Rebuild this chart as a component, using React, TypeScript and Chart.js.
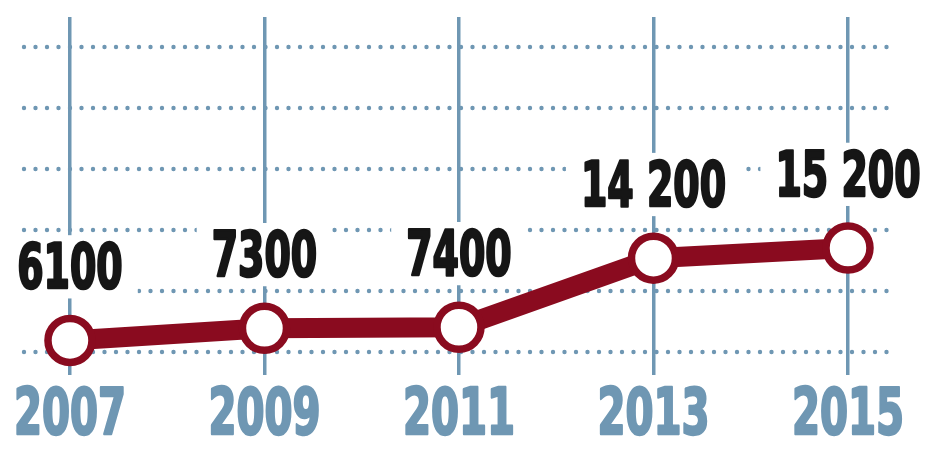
import React, { useEffect, useRef } from 'react';
import { Chart, registerables } from 'chart.js';

Chart.register(...registerables);

// ---- data ----
const years = [2007, 2009, 2011, 2013, 2015];
const values = [6100, 7300, 7400, 14200, 15200];
const valueLabels = ['6100', '7300', '7400', '14 200', '15 200'];
const yearLabels = ['2007', '2009', '2011', '2013', '2015'];
const gridValues = [5000, 11000, 17000, 23000, 29000, 35000];

// ---- style ----
const RED = '#8a0b1f';
const BLUE = '#6f97b3';
const FONT = "'DejaVu Sans Condensed', 'DejaVu Sans', sans-serif";

const dottedGrid = {
  id: 'dottedGrid',
  beforeDatasetsDraw(chart: any) {
    const { ctx, chartArea, scales } = chart;
    const y = scales.y;
    ctx.save();
    ctx.strokeStyle = BLUE;
    ctx.lineWidth = 4.4;
    ctx.lineCap = 'round';
    ctx.setLineDash([0, 11.5]);
    gridValues.forEach((v) => {
      const py = Math.round(y.getPixelForValue(v));
      ctx.beginPath();
      ctx.moveTo(chartArea.left + 1, py);
      ctx.lineTo(chartArea.right, py);
      ctx.stroke();
    });
    ctx.restore();
  },
};

function heavyText(ctx: any, text: string, x: number, y: number, sx: number, color: string, weight: number) {
  ctx.save();
  ctx.translate(x, y);
  ctx.scale(sx, 1);
  ctx.fillStyle = color;
  ctx.strokeStyle = color;
  ctx.lineWidth = weight;
  ctx.lineJoin = 'round';
  ctx.fillText(text, 0, 0);
  ctx.strokeText(text, 0, 0);
  ctx.restore();
}

const valueLabelPlugin = {
  id: 'valueLabels',
  afterDatasetsDraw(chart: any) {
    const { ctx, chartArea, scales } = chart;
    const meta = chart.getDatasetMeta(0);
    // value labels above points, on white boxes
    const size = 62;
    const sx = 0.68;
    const cap = size * 0.73;
    ctx.save();
    ctx.font = `bold ${size}px ${FONT}`;
    ctx.textAlign = 'center';
    ctx.textBaseline = 'alphabetic';
    meta.data.forEach((pt: any, i: number) => {
      const text = valueLabels[i];
      const w = ctx.measureText(text).width * sx;
      const base = pt.y - 52;
      ctx.fillStyle = '#ffffff';
      ctx.fillRect(pt.x - w / 2 - 15, base - cap - 8, w + 30, cap + 18);
      heavyText(ctx, text, pt.x, base, sx, '#161616', 2.6);
    });
    // year labels under the axis
    const ySize = 64;
    const ySx = 0.7;
    ctx.font = `bold ${ySize}px ${FONT}`;
    years.forEach((yr, i) => {
      const px = scales.x.getPixelForValue(yr);
      heavyText(ctx, yearLabels[i], px, chartArea.bottom + 59, ySx, BLUE, 2.4);
    });
    ctx.restore();
  },
};

export default function App() {
  const canvasRef = useRef<HTMLCanvasElement | null>(null);

  useEffect(() => {
    document.body.style.margin = '0';
    const canvas = canvasRef.current;
    if (!canvas) return;
    const chart = new Chart(canvas, {
      type: 'line',
      data: {
        datasets: [
          {
            data: years.map((yr, i) => ({ x: yr, y: values[i] })),
            borderColor: RED,
            borderWidth: 20,
            tension: 0,
            pointRadius: 22,
            pointBorderWidth: 7.5,
            pointBackgroundColor: '#ffffff',
            pointBorderColor: RED,
            fill: false,
          },
        ],
      },
      options: {
        animation: false,
        responsive: false,
        maintainAspectRatio: false,
        layout: { autoPadding: false, padding: { left: 23, right: 50, top: 17, bottom: 96 } },
        plugins: { legend: { display: false }, tooltip: { enabled: false } },
        scales: {
          x: {
            type: 'linear',
            min: 2006.517,
            max: 2015.432,
            afterBuildTicks: (scale: any) => {
              scale.ticks = years.map((v) => ({ value: v }));
            },
            grid: { color: BLUE, lineWidth: 3.5, drawTicks: false },
            border: { display: false },
            ticks: { display: false },
          },
          y: {
            type: 'linear',
            display: false,
            min: 2700,
            max: 37930,
          },
        },
      },
      plugins: [dottedGrid, valueLabelPlugin],
    });
    return () => chart.destroy();
  }, []);

  return (
    <div style={{ width: 940, height: 471 }}>
      <canvas ref={canvasRef} width={940} height={471} />
    </div>
  );
}
